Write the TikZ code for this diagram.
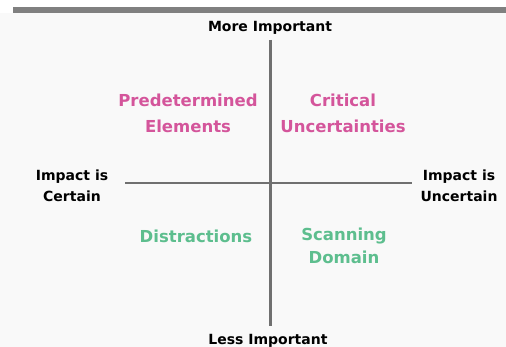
\documentclass[tikz,border=0pt]{standalone}
\usepackage{fontspec}
\setmainfont{DejaVu Sans}
\usetikzlibrary{calc}
\definecolor{axisgray}{HTML}{707070}
\definecolor{bargray}{HTML}{808080}
\definecolor{quadpink}{HTML}{D4559B}
\definecolor{quadgreen}{HTML}{5DBE8E}
\definecolor{bggray}{HTML}{F9F9F9}

\begin{document}
\begin{tikzpicture}[
        x=1pt, y=-1pt,
        axislabel/.style={font=\bfseries\fontsize{14}{21}\selectfont,align=center,text=black,inner sep=0pt},
        quadlabel/.style={font=\bfseries\fontsize{16.5}{26}\selectfont,align=center,inner sep=0pt},
        axisline/.style={draw=axisgray},
        ]
        \useasboundingbox (0,0) rectangle (506,347);
        \fill[bggray] (0,13) rectangle (506,347);
        \fill[bargray] (13,7) rectangle (506,13);

        \node[axislabel](more) at (270,28){More Important};
        \node[axislabel](less) at (268,341){Less Important};
        \node[axislabel](certain) at (72,186){Impact is\\Certain};
        \node[axislabel](uncertain) at (459,186){Impact is\\Uncertain};

        \coordinate (top) at (270,40);
        \coordinate (bottom) at (270,326);
        \coordinate (left) at (125,183);
        \coordinate (right) at (412,183);
        \draw[axisline, line width=3pt] (top) -- (bottom);
        \draw[axisline, line width=2pt] (left) -- (right);

        \node[quadlabel, text=quadpink](predet) at (188,113){Predetermined\\Elements};
        \node[quadlabel, text=quadpink](critical) at (343,113){Critical\\Uncertainties};
        \node[quadlabel, text=quadgreen](distract) at (196,236){Distractions};
        \node[quadlabel, text=quadgreen, font=\bfseries\fontsize{16.5}{23}\selectfont](scanning) at (344,246){Scanning\\Domain};
\end{tikzpicture}
\end{document}
